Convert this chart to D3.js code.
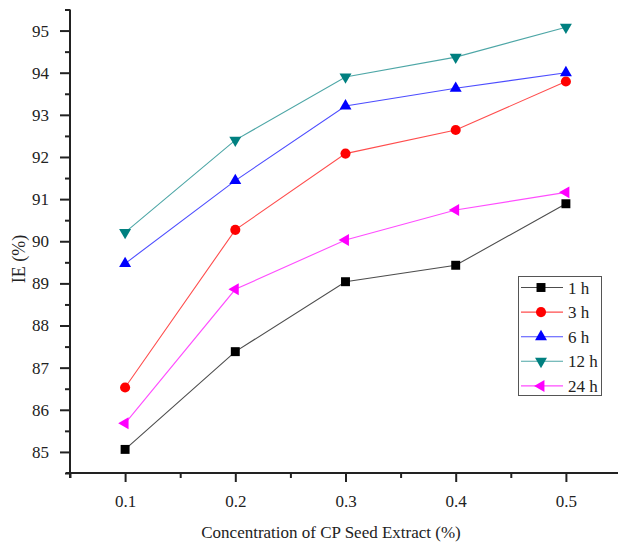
<!DOCTYPE html>
<html>
<head>
<meta charset="utf-8">
<script src="https://cdn.jsdelivr.net/npm/d3@7"></script>
<style>
    body { margin: 0; background: #fff; }
    svg { display: block; }
    svg text { font-family: "Liberation Serif", "Times New Roman", serif; fill: #222; }
</style>
</head>
<body>
<div id="chart"></div>
<script>
// DATA
const concentrations = [0.1, 0.2, 0.3, 0.4, 0.5];
const seriesNames = ["1 h", "3 h", "6 h", "12 h", "24 h"];
const ie1h  = [85.06, 87.38, 89.04, 89.43, 90.89];
const ie3h  = [86.53, 90.27, 92.08, 92.64, 93.79];
const ie6h  = [89.47, 91.44, 93.21, 93.63, 94.00];
const ie12h = [90.21, 92.40, 93.90, 94.37, 95.08];
const ie24h = [85.68, 88.86, 90.03, 90.74, 91.16];
const xTicks = [0.1, 0.2, 0.3, 0.4, 0.5];
const yTicks = [85, 86, 87, 88, 89, 90, 91, 92, 93, 94, 95];

const colors = ["#000000", "#ff0000", "#0000ff", "#008080", "#ff00ff"];
const allSeries = [ie1h, ie3h, ie6h, ie12h, ie24h];

const width = 618, height = 544;
const margin = {top: 9.5, right: -3, bottom: 71, left: 70};

const svg = d3.select("#chart").append("svg")
    .attr("width", width)
    .attr("height", height);

const x = d3.scaleLinear()
    .domain([0.05, 0.55])
    .range([margin.left, width - margin.right]);

const y = d3.scaleLinear()
    .domain([84.5, 95.5])
    .range([height - margin.bottom, margin.top]);

// --- AXES ---
// minor ticks first, then major ticks with labels
const xMinor = d3.range(0.05, 0.56, 0.1).map(d => +d.toFixed(2));
const yMinor = d3.range(84.5, 95.6, 1);

svg.append("g")
    .attr("transform", `translate(0,${y(84.5)})`)
    .call(d3.axisBottom(x).tickValues(xMinor).tickSize(5).tickFormat(""))
    .call(g => g.select(".domain").remove())
    .selectAll("line").attr("stroke", "#222").attr("stroke-width", 2);

svg.append("g")
    .attr("transform", `translate(${x(0.05)},0)`)
    .call(d3.axisLeft(y).tickValues(yMinor).tickSize(5).tickFormat(""))
    .call(g => g.select(".domain").remove())
    .selectAll("line").attr("stroke", "#222").attr("stroke-width", 2);

const xAxis = svg.append("g")
    .attr("transform", `translate(0,${y(84.5)})`)
    .call(d3.axisBottom(x).tickValues(xTicks).tickSize(9).tickPadding(13).tickFormat(d3.format(".1f")))
    .call(g => g.select(".domain").remove())
    .attr("font-family", null)
    .attr("font-size", 17);
xAxis.selectAll("line").attr("stroke", "#222").attr("stroke-width", 2);

const yAxis = svg.append("g")
    .attr("transform", `translate(${x(0.05)},0)`)
    .call(d3.axisLeft(y).tickValues(yTicks).tickSize(10).tickPadding(11).tickFormat(d3.format("d")))
    .call(g => g.select(".domain").remove())
    .attr("font-family", null)
    .attr("font-size", 17);
yAxis.selectAll("line").attr("stroke", "#222").attr("stroke-width", 2);

// axis lines
svg.append("line")
    .attr("x1", x(0.05) - 4).attr("x2", width)
    .attr("y1", y(84.5)).attr("y2", y(84.5))
    .attr("stroke", "#222").attr("stroke-width", 2);
svg.append("line")
    .attr("x1", x(0.05)).attr("x2", x(0.05))
    .attr("y1", y(95.5)).attr("y2", y(84.5) + 5)
    .attr("stroke", "#222").attr("stroke-width", 2);

// axis titles
svg.append("text")
    .attr("x", 331).attr("y", 538)
    .attr("text-anchor", "middle")
    .attr("font-size", 17)
    .text("Concentration of CP Seed Extract (%)");

svg.append("text")
    .attr("transform", "translate(25,259) rotate(-90)")
    .attr("text-anchor", "middle")
    .attr("font-size", 18)
    .text("IE (%)");

// --- SERIES ---
const symbols = [
    {type: d3.symbolSquare, size: 80, rot: 0},
    {type: d3.symbolCircle, size: 80, rot: 0},
    {type: d3.symbolTriangle, size: 62, rot: 0},
    {type: d3.symbolTriangle, size: 62, rot: 180},
    {type: d3.symbolTriangle, size: 62, rot: -90}
];

const line = d3.line()
    .x((d, i) => x(concentrations[i]))
    .y(d => y(d));

allSeries.forEach((vals, s) => {
    svg.append("path")
        .attr("d", line(vals))
        .attr("fill", "none")
        .attr("stroke", colors[s])
        .attr("stroke-opacity", 0.7)
        .attr("stroke-width", 1.1);

    svg.selectAll(".m" + s)
        .data(vals)
        .enter().append("path")
        .attr("class", "m" + s)
        .attr("d", d3.symbol().type(symbols[s].type).size(symbols[s].size))
        .attr("transform", (d, i) => `translate(${x(concentrations[i])},${y(d)}) rotate(${symbols[s].rot})`)
        .attr("fill", colors[s]);
});

// --- LEGEND ---
const legend = svg.append("g");
legend.append("rect")
    .attr("x", 518.5).attr("y", 276.5)
    .attr("width", 83).attr("height", 119)
    .attr("fill", "#fff")
    .attr("stroke", "#555")
    .attr("stroke-width", 1);

seriesNames.forEach((name, s) => {
    const ly = 287.5 + s * 24.6;
    legend.append("line")
        .attr("x1", 521).attr("x2", 563)
        .attr("y1", ly).attr("y2", ly)
        .attr("stroke", colors[s])
        .attr("stroke-opacity", 0.7)
        .attr("stroke-width", 1.1);
    legend.append("path")
        .attr("d", d3.symbol().type(symbols[s].type).size(symbols[s].size))
        .attr("transform", `translate(541,${ly}) rotate(${symbols[s].rot})`)
        .attr("fill", colors[s]);
    legend.append("text")
        .attr("x", 568).attr("y", ly + 6)
        .attr("font-size", 17)
        .text(name);
});
</script>
</body>
</html>
